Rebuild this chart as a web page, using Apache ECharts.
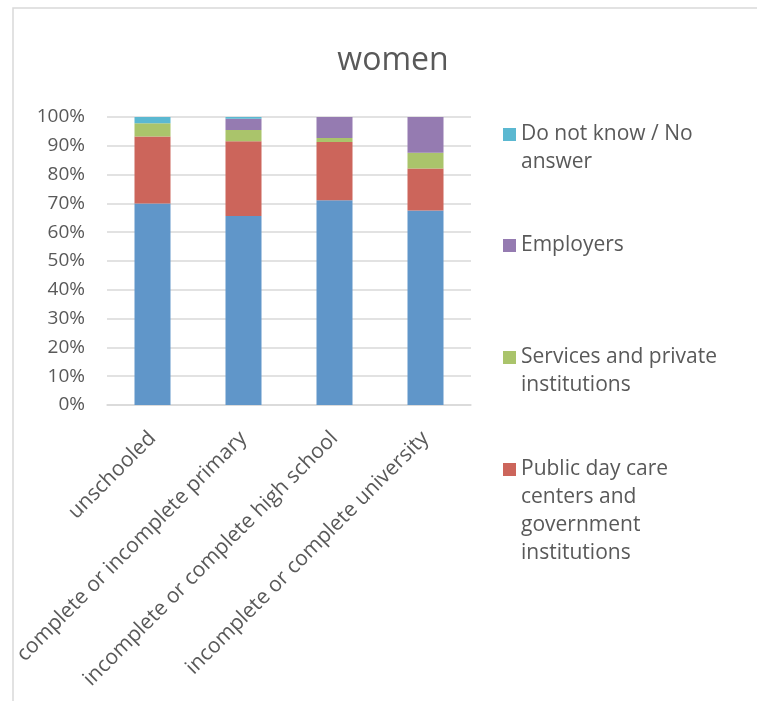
<!DOCTYPE html>
<html>
<head>
<meta charset="utf-8">
<script src="https://cdn.jsdelivr.net/npm/echarts@6/dist/echarts.min.js"></script>
<style>
  html, body { margin: 0; padding: 0; background: #fff; }
  #main { width: 757px; height: 701px; }
</style>
</head>
<body>
<div id="main"></div>
<script>
const categories = ['unschooled', 'complete or incomplete primary',
    'incomplete or complete high school', 'incomplete or complete university']
// percent shares, bottom to top
const family = [70.0, 65.6, 71.1, 67.5]
const publicCare = [23.2, 26.0, 20.2, 14.6]
const services = [4.6, 3.9, 1.4, 5.5]
const employers = [0, 3.9, 7.3, 12.4]
const noAnswer = [2.2, 0.6, 0, 0]
const yTicks = [0, 10, 20, 30, 40, 50, 60, 70, 80, 90, 100]

const textColor = '#595959'
const font = 'Open Sans'
const lineH = 28

// legend entries, top one first; wrapped as in the picture
const legendItems = [
    { name: 'Do not know / No answer', lines: ['Do not know / No', 'answer'], top: 127 },
    { name: 'Employers', lines: ['Employers'], top: 238 },
    { name: 'Services and private institutions', lines: ['Services and private', 'institutions'], top: 350 },
    { name: 'Public day care centers and government institutions',
        lines: ['Public day care', 'centers and', 'government', 'institutions'], top: 462 },
]

function bar(name, data, color) {
    return {
        name, type: 'bar', stack: 'all', data, barWidth: 36,
        itemStyle: { color },
    }
}

const chart = echarts.init(document.getElementById('main'))
chart.setOption({
    animation: false,
    title: {
        text: 'women', left: 388, top: 40, textAlign: 'center',
        textStyle: { fontFamily: font, fontSize: 32, fontWeight: 'normal', color: textColor },
    },
    graphic: [{
        type: 'rect', shape: { x: 13, y: 8, width: 800, height: 800 },
        style: { fill: 'none', stroke: '#d9d9d9', lineWidth: 1.5 }, silent: true,
    }],
    legend: legendItems.map(it => {
        // pad with blank lines on top so the marker sits beside the first line
        const n = it.lines.length
        const pad = new Array(n - 1).fill(' ')
        const text = pad.concat(it.lines).join('\n')
        return {
            data: [it.name], left: 503, padding: 0,
            top: it.top - ((2 * n - 1) * lineH / 2 - 6.5) + 1,
            itemWidth: 13, itemHeight: 13, icon: 'rect',
            formatter: () => text,
            textStyle: { fontFamily: font, fontSize: 21, color: textColor, lineHeight: lineH },
        }
    }),
    grid: { left: 107, right: 286, top: 117, bottom: 296 },
    xAxis: {
        type: 'category', data: categories,
        axisLine: { lineStyle: { color: '#d9d9d9', width: 1.5 } },
        axisTick: { show: false },
        axisLabel: {
            rotate: 45, margin: 30, interval: 0,
            fontFamily: font, fontSize: 21, color: textColor,
        },
    },
    yAxis: {
        type: 'value', min: 0, max: 100, interval: 10,
        axisLabel: {
            formatter: v => yTicks.includes(v) ? v + '%' : '',
            margin: 22, fontFamily: font, fontSize: 19, color: textColor,
        },
        axisLine: { show: false }, axisTick: { show: false },
        splitLine: { lineStyle: { color: '#d9d9d9', width: 1.5 } },
    },
    series: [
        bar('Family', family, '#6096c9'),
        bar('Public day care centers and government institutions', publicCare, '#cc655b'),
        bar('Services and private institutions', services, '#aac46b'),
        bar('Employers', employers, '#957bb1'),
        bar('Do not know / No answer', noAnswer, '#5bb8d1'),
    ],
})
</script>
</body>
</html>
